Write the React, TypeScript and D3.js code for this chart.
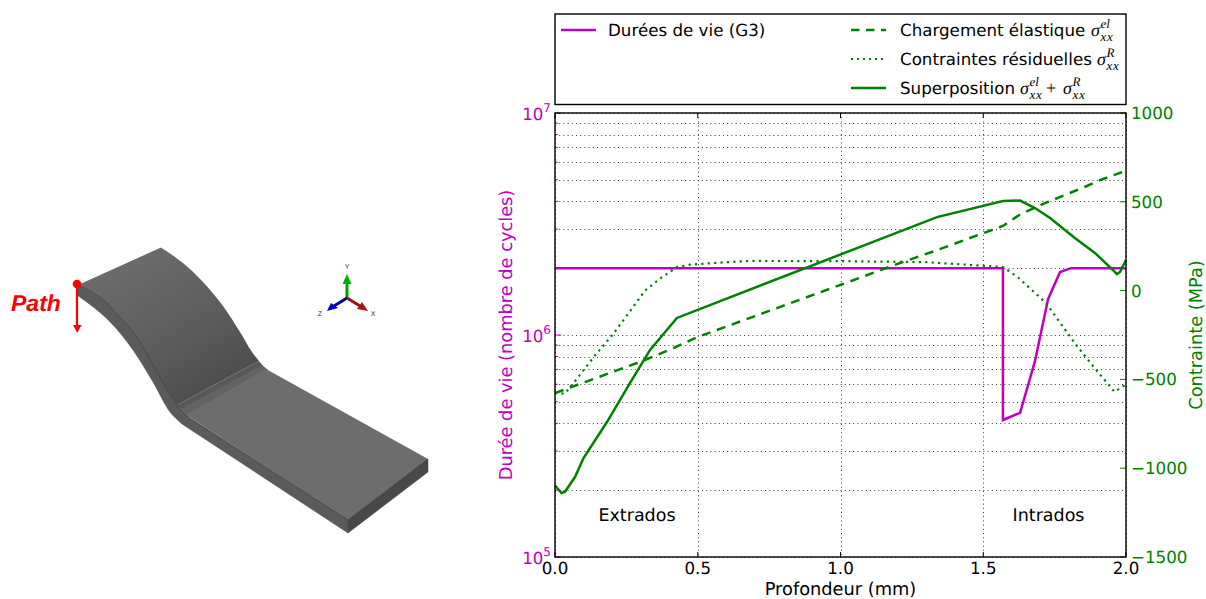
import React from "react";
import * as d3 from "d3";

const lifeDepth = [0, 1.569, 1.569, 1.629, 1.681, 1.727, 1.769, 1.807, 2];
const lifeCycles = [2e6, 2e6, 4.14e5, 4.46e5, 7.6e5, 1.45e6, 1.92e6, 2e6, 2e6];

const elasticDepth = [0, 0.105, 0.21, 0.315, 0.42, 0.5, 1.0, 1.17, 1.34, 1.569, 1.63, 1.72, 1.863, 1.909, 2];
const elasticStress = [-577, -515, -453, -391, -320, -261, 32, 133, 229, 364, 430, 495, 589, 622, 675];

const residualDepth = [0, 0.035, 0.08, 0.14, 0.2, 0.26, 0.315, 0.375, 0.427, 0.473, 0.58, 0.68, 1.0, 1.3, 1.569, 1.62, 1.72, 1.82, 1.89, 1.96, 1.98, 2];
const residualStress = [-577, -580, -490, -365, -252, -122, 0, 76, 132, 146, 158, 167, 166, 160, 133, 77, -70, -295, -436, -570, -548, -530];

const superDepth = [0, 0.023, 0.035, 0.07, 0.1, 0.182, 0.263, 0.333, 0.427, 1.338, 1.569, 1.629, 1.681, 1.734, 1.821, 1.891, 1.902, 1.961, 1.968, 1.979, 2];
const superStress = [-1098, -1140, -1132, -1050, -943, -740, -520, -334, -154, 414, 504, 507, 465, 409, 296, 212, 195, 105, 93, 105, 172];

const depthTicks = [0, 0.5, 1, 1.5, 2];
const stressTicks = [1000, 500, 0, -500, -1000, -1500];
const lifeDecades = [5, 6, 7];

const MAG = "#bf00bf";
const GRN = "#008000";
const FONT = "'DejaVu Sans', sans-serif";
const SERIF = "'Liberation Serif', serif";
const L = 555, R = 1126, T = 113, B = 557;

const x = d3.scaleLinear().domain([0, 2]).range([L, R]);
const yLife = d3.scaleLog().domain([1e5, 1e7]).range([B, T]);
const yStress = d3.scaleLinear().domain([-1500, 1000]).range([B, T]);

type P = [number, number];
const stressLine = (xs: number[], ys: number[]) =>
  d3.line<number>().x((d) => x(d)).y((_, i) => yStress(ys[i]))(xs) || "";
const lifeLine = d3.line<number>().x((d) => x(d)).y((_, i) => yLife(lifeCycles[i]))(lifeDepth) || "";

const curve = (pts: P[]) => d3.line().curve(d3.curveCatmullRom.alpha(0.5))(pts) || "";
const cont = (pts: P[]) => curve(pts).replace(/^M[^C]*/, `L${pts[0][0]},${pts[0][1]}`);

const topBack: P[] = [[161, 247.5], [183, 263], [203, 282], [223, 306], [240, 332], [252, 352], [259, 361]];
const topFront: P[] = [[78, 285], [100, 297], [120, 317], [137, 337], [153, 365], [167, 390], [177, 405]];
const sideLow: P[] = [[77, 295], [97, 310], [113, 325], [133, 350], [153, 382], [170, 412], [182, 424]];

const MathSig = ({ px, y, sup }: { px: number; y: number; sup: string }) => (
  <g fontFamily={SERIF} fontStyle="italic">
    <text x={px} y={y} fontSize={18}>σ</text>
    <text x={px + 9.5} y={y - 8} fontSize={13}>{sup}</text>
    <text x={px + 9.5} y={y + 5} fontSize={13} letterSpacing={0.8}>xx</text>
  </g>
);

function Specimen() {
  const bendTop = `M78,285 L161,247.5 ${cont(topBack)} L177,405 ${cont([...topFront].reverse())} Z`;
  const side = `${curve(topFront)} L188,417 L348,520 L348,533 L182,424 ${cont([...sideLow].reverse())} Z`;
  return (
    <g>
      <defs>
        <linearGradient id="bend" gradientUnits="userSpaceOnUse" x1="120" y1="265" x2="197" y2="392">
          <stop offset="0" stopColor="#6b6b6b" />
          <stop offset="0.55" stopColor="#5e5e5e" />
          <stop offset="1" stopColor="#4f4f4f" />
        </linearGradient>
      </defs>
      <path d={side} fill="#5a5a5a" stroke="#4a4a4a" strokeWidth={0.5} />
      <path d="M348,520 L428,459 L428,472 L348,533 Z" fill="#484848" stroke="#444" strokeWidth={0.5} />
      <path d={bendTop} fill="url(#bend)" />
      <path d="M177,405 L259,361 L263,366 L183,411 Z" fill="#585858" />
      <path d="M181,409 L262,365 L268,370 L188,417 Z" fill="#636363" />
      <path d="M186,415 L266,369 L428,459 L348,520 Z" fill="#6d6d6d" />
      <path d={curve(topFront)} fill="none" stroke="#383838" strokeWidth={0.7} />
      <path d="M177,405 Q182,412 188,417 L348,520 L428,459" fill="none" stroke="#383838" strokeWidth={0.7} />
      <path d="M348,520 L348,533" fill="none" stroke="#555" strokeWidth={0.6} />
      <circle cx={77} cy={284} r={4.3} fill="#ff0000" />
      <line x1={77} y1={284} x2={77} y2={327} stroke="#ff0000" strokeWidth={2.2} />
      <path d="M73,325 L81.5,325 L77.2,333 Z" fill="#ff0000" />
      <text x={11} y={311} fontFamily="'Liberation Sans', sans-serif" fontWeight="bold" fontStyle="italic" fontSize={23} fill="#ff0000">Path</text>
      <line x1={347} y1={298} x2={347} y2={282} stroke="#00a000" strokeWidth={3} />
      <path d="M342.5,284 L347,274 L351.5,284 Z" fill="#00b000" />
      <line x1={347} y1={298} x2={334} y2={306} stroke="#0000a0" strokeWidth={3} />
      <path d="M327,311 L331,303 L338,308 Z" fill="#0000c0" />
      <line x1={347} y1={298} x2={360} y2={306} stroke="#a01010" strokeWidth={3} />
      <path d="M368,311 L357,309 L362,302 Z" fill="#a01818" />
      <g fontFamily="'Liberation Sans', sans-serif" fontSize={7} fill="#333" textAnchor="middle">
        <text x={347} y={269}>Y</text>
        <text x={320} y={316}>Z</text>
        <text x={373} y={316}>X</text>
      </g>
    </g>
  );
}

export default function App() {
  const minor: number[] = [];
  for (let d = 5; d < 7; d++) for (let m = 2; m <= 9; m++) minor.push(m * Math.pow(10, d));
  const major = lifeDecades.map((d) => Math.pow(10, d));
  return (
    <svg width={1206} height={599} style={{ position: "absolute", left: 0, top: 0, background: "#fff", textRendering: "geometricPrecision" }} fontFamily={FONT}>
      <Specimen />

      {/* legend */}
      <rect x={555} y={14} width={571} height={90.5} fill="#fff" stroke="#000" strokeWidth={1.4} />
      <g fontSize={16.7} fill="#000">
        <line x1={561} x2={596} y1={30} y2={30} stroke={MAG} strokeWidth={2.5} />
        <text x={608} y={36}>Durées de vie (G3)</text>
        <line x1={851} x2={886} y1={30} y2={30} stroke={GRN} strokeWidth={2.5} strokeDasharray="8.5 6.5" />
        <text x={900} y={36}>Chargement élastique</text>
        <MathSig px={1091} y={36} sup="el" />
        <line x1={851} x2={886} y1={59} y2={59} stroke={GRN} strokeWidth={2} strokeDasharray="2 4" />
        <text x={900} y={65}>Contraintes résiduelles</text>
        <MathSig px={1097} y={65} sup="R" />
        <line x1={851} x2={886} y1={88} y2={88} stroke={GRN} strokeWidth={2.5} />
        <text x={900} y={94}>Superposition</text>
        <MathSig px={1020} y={94} sup="el" />
        <text x={1046} y={94} fontFamily={SERIF} fontSize={18}>+</text>
        <MathSig px={1063} y={94} sup="R" />
      </g>

      {/* grid */}
      <g stroke="#000" strokeWidth={1} strokeDasharray="1 3.2" opacity={0.75}>
        {[...major, ...minor].map((v) => (
          <line key={v} x1={L} x2={R} y1={Math.round(yLife(v)) + 0.5} y2={Math.round(yLife(v)) + 0.5} />
        ))}
        {depthTicks.map((v) => (
          <line key={v} x1={Math.round(x(v)) + 0.5} x2={Math.round(x(v)) + 0.5} y1={T} y2={B} />
        ))}
      </g>

      {/* series */}
      <path d={lifeLine} fill="none" stroke={MAG} strokeWidth={2.5} strokeLinejoin="miter" />
      <path d={stressLine(elasticDepth, elasticStress)} fill="none" stroke={GRN} strokeWidth={2.5} strokeDasharray="9 6.8" />
      <path d={stressLine(residualDepth, residualStress)} fill="none" stroke={GRN} strokeWidth={2.2} strokeDasharray="2.2 4.2" />
      <path d={stressLine(superDepth, superStress)} fill="none" stroke={GRN} strokeWidth={2.5} />

      {/* region labels */}
      <text x={637} y={521} textAnchor="middle" fontSize={17.5}>Extrados</text>
      <text x={1048.5} y={521} textAnchor="middle" fontSize={17.5}>Intrados</text>

      {/* ticks */}
      <g stroke="#000" strokeWidth={1}>
        {depthTicks.map((v) => (
          <g key={v}>
            <line x1={x(v)} x2={x(v)} y1={B} y2={B - 5} />
            <line x1={x(v)} x2={x(v)} y1={T} y2={T + 5} />
          </g>
        ))}
      </g>
      <g stroke={MAG} strokeWidth={1}>
        {major.map((v) => (
          <line key={v} x1={L} x2={L + 6} y1={yLife(v)} y2={yLife(v)} />
        ))}
        {minor.map((v) => (
          <line key={v} x1={L} x2={L + 3} y1={yLife(v)} y2={yLife(v)} />
        ))}
      </g>
      <g stroke={GRN} strokeWidth={1}>
        {stressTicks.map((v) => (
          <line key={v} x1={R} x2={R - 6} y1={yStress(v)} y2={yStress(v)} />
        ))}
      </g>
      <rect x={L} y={T} width={R - L} height={B - T} fill="none" stroke="#000" strokeWidth={1.4} />

      {/* tick labels */}
      <g fontSize={16.7} textAnchor="middle" fill="#000">
        {depthTicks.map((v) => (
          <text key={v} x={x(v)} y={574}>{v.toFixed(1)}</text>
        ))}
      </g>
      <g fontSize={16.7} fill={MAG} textAnchor="end">
        {lifeDecades.map((d) => (
          <text key={d} x={551} y={yLife(Math.pow(10, d)) + 7}>
            10<tspan fontSize={12} dy={-8}>{d}</tspan>
          </text>
        ))}
      </g>
      <g fontSize={16.7} fill={GRN}>
        {stressTicks.map((v) => (
          <text key={v} x={1131} y={yStress(v) + 6}>{v < 0 ? `\u2212${-v}` : v}</text>
        ))}
      </g>

      {/* axis titles */}
      <text x={840.5} y={594.5} textAnchor="middle" fontSize={17.8} fill="#000">Profondeur (mm)</text>
      <text transform="translate(512,335) rotate(-90)" textAnchor="middle" fontSize={17.8} fill={MAG}>Durée de vie (nombre de cycles)</text>
      <text transform="translate(1202,335) rotate(-90)" textAnchor="middle" fontSize={17.8} fill={GRN}>Contrainte (MPa)</text>
    </svg>
  );
}
